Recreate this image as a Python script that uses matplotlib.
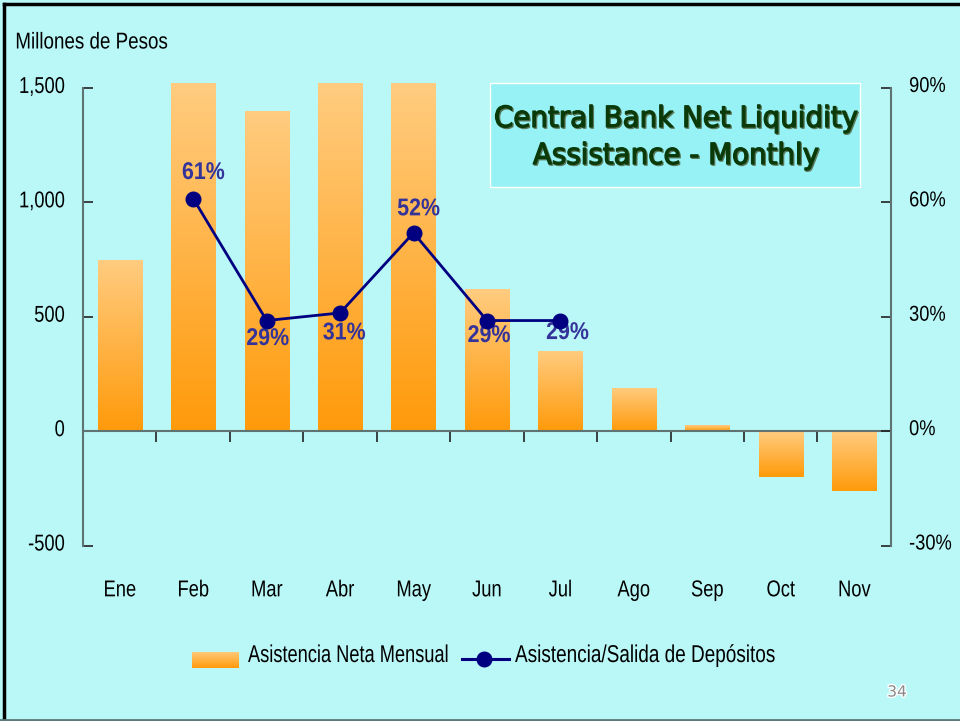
import numpy as np
import matplotlib.pyplot as plt
from matplotlib.colors import LinearSegmentedColormap, to_rgb
from matplotlib.patches import Rectangle
from matplotlib.lines import Line2D
from matplotlib.transforms import Affine2D
import matplotlib.transforms as mtransforms
import matplotlib.patheffects as pe

months = ['Ene', 'Feb', 'Mar', 'Abr', 'May', 'Jun', 'Jul', 'Ago', 'Sep', 'Oct', 'Nov']
asistencia = [750, 1520, 1400, 1520, 1520, 620, 350, 190, 25, -200, -260]
pct_months = ['Feb', 'Mar', 'Abr', 'May', 'Jun', 'Jul']
pct_salida = [61, 29, 31, 52, 29, 29]
# label offsets in pixels from each point
pct_offsets = [(10, 26), (1, -18), (4, -20), (5, 24), (2, -15), (7, -12)]
left_ticks = [-500, 0, 500, 1000, 1500]
right_ticks = [-30, 0, 30, 60, 90]

BG = '#BAF7F7'
LIGHT = '#FFCC80'
DARK = '#FF9A0A'
NAVY = '#000080'
LBL = '#333399'
FONT = 'Liberation Sans'

orange_cmap = LinearSegmentedColormap.from_list('bar_grad', [DARK, LIGHT])


class Squeeze(pe.AbstractPathEffect):
    """Draw text condensed horizontally around an anchor, with optional
    vertical nudge, outline and drop shadow (all in pixels)."""

    def __init__(self, sx=0.82, anchor='left', dy=0, stroke=0, shadow=None):
        super().__init__()
        self.sx, self.anchor, self.dy = sx, anchor, dy
        self.stroke, self.shadow = stroke, shadow

    def draw_path(self, renderer, gc, tpath, affine, rgbFace=None):
        ext = tpath.get_extents()
        cx = {'left': ext.x0, 'center': (ext.x0 + ext.x1) / 2, 'right': ext.x1}[self.anchor]
        tr = (Affine2D().translate(-cx, 0).scale(self.sx, 1).translate(cx, 0)
              + affine + Affine2D().translate(0, self.dy))
        if self.shadow:
            (ox, oy), col = self.shadow
            g = renderer.new_gc()
            g.copy_properties(gc)
            g.set_linewidth(self.stroke)
            g.set_foreground(col)
            renderer.draw_path(g, tpath, tr + Affine2D().translate(ox, oy), to_rgb(col))
            g.restore()
        if self.stroke:
            g = renderer.new_gc()
            g.copy_properties(gc)
            g.set_linewidth(self.stroke)
            g.set_foreground(rgbFace)
            renderer.draw_path(g, tpath, tr, rgbFace)
            g.restore()
        else:
            renderer.draw_path(gc, tpath, tr, rgbFace)


fig = plt.figure(figsize=(9.6, 7.21), dpi=100, facecolor=BG)
ax = fig.add_axes([0.0865, 0.2434, 0.8415, 0.64])
ax.set_facecolor(BG)

x = np.arange(len(months))
bars = ax.bar(x, asistencia, width=0.6, color='none', edgecolor='none', zorder=2)
grad = np.linspace(0, 1, 256).reshape(-1, 1)
for b in bars:
    x0 = b.get_x()
    y0 = min(b.get_y(), b.get_y() + b.get_height())
    y1 = max(b.get_y(), b.get_y() + b.get_height())
    im = ax.imshow(grad, extent=[x0, x0 + b.get_width(), y0, y1], origin='lower',
                   cmap=orange_cmap, aspect='auto', zorder=2)
    im.set_clip_path(b)

ax.set_xlim(-0.5, len(months) - 0.5)
ax.set_ylim(-500, 1517)

# left spine with inward ticks, zero line carries the month separators
ax.spines['top'].set_visible(False)
ax.spines['right'].set_visible(False)
ax.spines['left'].set_bounds(-500, 1500)
ax.spines['left'].set_color('#5F7373')
ax.spines['left'].set_linewidth(1.5)
ax.spines['bottom'].set_position(('data', 0))
ax.spines['bottom'].set_color('#5F7373')
ax.spines['bottom'].set_linewidth(1.5)
ax.set_yticks(left_ticks)
ax.set_yticklabels([f'{v:,}' for v in left_ticks], family=FONT, fontsize=16.5)
ax.tick_params(axis='y', direction='in', length=7, width=1.2, color='#222222', pad=13)
for t in ax.get_yticklabels():
    t.set_path_effects([Squeeze(0.8, 'right', 4)])
ax.set_xticks(np.arange(0.5, len(months) - 0.5, 1))
ax.set_xticklabels([])
ax.tick_params(axis='x', direction='out', length=8, width=1.2, color='#222222')

trans = mtransforms.blended_transform_factory(ax.transData, ax.transAxes)
for xi, m in zip(x, months):
    ax.text(xi, -0.096, m, transform=trans, ha='center', va='center',
            family=FONT, fontsize=16.5, path_effects=[Squeeze(0.8, 'center')])

ax2 = ax.twinx()
ax2.set_ylim(-30, 90 * 1517 / 1500)
for s in ['top', 'left', 'bottom']:
    ax2.spines[s].set_visible(False)
ax2.spines['right'].set_bounds(-30, 90)
ax2.spines['right'].set_color('#5F7373')
ax2.spines['right'].set_linewidth(1.5)
ax2.set_yticks(right_ticks)
ax2.set_yticklabels([f'{v}%' for v in right_ticks], family=FONT, fontsize=15.5)
ax2.tick_params(axis='y', direction='in', length=7, width=1.2, color='#222222', pad=13)
for t in ax2.get_yticklabels():
    t.set_path_effects([Squeeze(0.85, 'left', 4)])

px = [months.index(m) for m in pct_months]
ax2.plot(px, pct_salida, color=NAVY, lw=2, marker='o', markersize=10.5, zorder=4)
for xi, v, off in zip(px, pct_salida, pct_offsets):
    ax2.annotate(f'{v}%', (xi, v), xytext=off, textcoords='offset pixels',
                 ha='center', va='center', color=LBL, fontweight='bold',
                 family=FONT, fontsize=17.5, path_effects=[Squeeze(0.88, 'center')])

fig.text(15 / 960, 1 - 42 / 721, 'Millones de Pesos', family=FONT, fontsize=16.5,
         va='center', path_effects=[Squeeze(0.82, 'left')])

# title box
fig.patches.append(Rectangle((490 / 960, 1 - 187 / 721), 370 / 960, 104 / 721,
                             transform=fig.transFigure, facecolor='#96F2F5',
                             edgecolor='white', lw=1, zorder=1))
for txt, yy in [('Central Bank Net Liquidity', 119), ('Assistance - Monthly', 156)]:
    fig.text(676 / 960, 1 - yy / 721, txt, ha='center', va='center', fontsize=21,
             color='#0A3A0A', family='DejaVu Sans',
             path_effects=[Squeeze(0.95, 'center', stroke=0.9,
                                   shadow=((1.2, -1.2), '#5C7A5C'))])

# legend
leg_ax = fig.add_axes([192 / 960, 1 - 668 / 721, 47 / 960, 16 / 721])
leg_ax.imshow(grad, origin='lower', cmap=orange_cmap, aspect='auto', extent=[0, 1, 0, 1])
leg_ax.set_axis_off()
fig.add_artist(Line2D([462 / 960, 509 / 960], [1 - 659 / 721] * 2, color=NAVY, lw=2.2,
                      transform=fig.transFigure))
fig.add_artist(Line2D([484 / 960], [1 - 659 / 721], color=NAVY, marker='o',
                      markersize=10.5, transform=fig.transFigure))
fig.text(248 / 960, 1 - 656 / 721, 'Asistencia Neta Mensual', family=FONT, fontsize=17.5,
         va='center', path_effects=[Squeeze(0.75, 'left')])
fig.text(515 / 960, 1 - 656 / 721, 'Asistencia/Salida de Depósitos', family=FONT,
         fontsize=17.5, va='center', path_effects=[Squeeze(0.78, 'left')])

fig.text(897 / 960, 1 - 692 / 721, '34', color='#888888', fontsize=11, ha='center',
         va='center', path_effects=[pe.withStroke(linewidth=2, foreground='white')])

# page frame
fig.add_artist(Line2D([4 / 960, 4 / 960], [0, 1 - 4 / 721], color='black', lw=2.5,
                      transform=fig.transFigure))
fig.add_artist(Line2D([4 / 960, 1], [1 - 4 / 721, 1 - 4 / 721], color='black', lw=2.5,
                      transform=fig.transFigure))
fig.add_artist(Line2D([0, 1], [1.5 / 721, 1.5 / 721], color='#5A7A7A', lw=2,
                      transform=fig.transFigure))

fig.savefig('out.png', dpi=100, facecolor=BG)
